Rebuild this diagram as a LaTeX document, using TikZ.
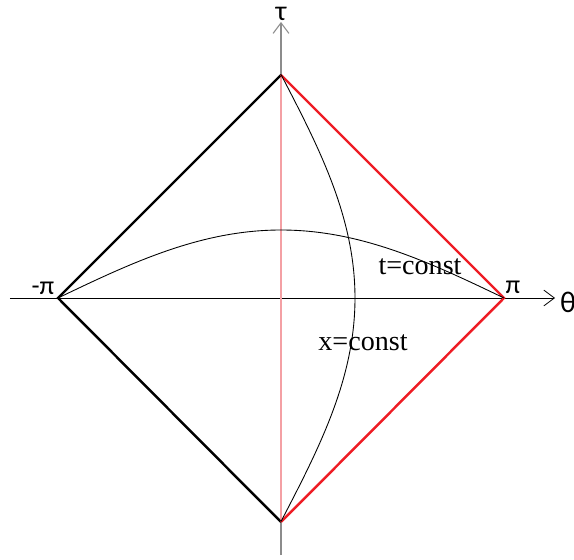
\documentclass[tikz,border=0pt]{standalone}
\usepackage{fontspec}
\setmainfont{Liberation Serif}
\newfontfamily\labelfont{Carlito}
\usetikzlibrary{arrows.meta}
\definecolor{edgered}{HTML}{EE1C24}
\definecolor{axispink}{HTML}{F4A0A4}
\definecolor{axisgray}{HTML}{8C8C8C}

\begin{document}
\begin{tikzpicture}[x=0.02cm, y=0.02cm,
  axisarrow/.style={-{Straight Barb[length=6pt, width=9pt]}},
  edge/.style={line width=1.4pt},
  curve/.style={line width=0.5pt},
  lbl/.style={font=\labelfont\fontsize{15}{17}\selectfont, inner sep=1pt}]

% Frame
\useasboundingbox (-281,-262) rectangle (293,298);

% Corners of the diamond
\coordinate (top) at (0,223);
\coordinate (bot) at (0,-224);
\coordinate (lft) at (-223,0);
\coordinate (rgt) at (223,0);

% Axes
\coordinate (xstart) at (-271,0);
\coordinate (xend) at (274,0);
\coordinate (ystart) at (0,-257);
\coordinate (yend) at (0,276);
\draw[axisarrow, line width=0.45pt] (xstart) -- (xend);
\draw[axisarrow, axisgray, line width=0.6pt] (ystart) -- (yend);
\draw[axispink, line width=0.6pt] (bot) -- (top);

% Diamond
\draw[edge, black] (bot) -- (lft) -- (top);
\draw[edge, edgered] (top) -- (rgt) -- (bot);

% t = const and x = const
\draw[curve, domain=-180:180, samples=60, smooth]
  plot ({\x/180*223}, {68*cos(\x/2)});
\draw[curve, domain=-180:180, samples=60, smooth]
  plot ({74*cos(\x/2)}, {\x/180*223.5});

% Labels
\node[lbl, font=\labelfont\fontsize{16}{18}\selectfont] (tau) at (0,284) {τ};
\node[lbl, font=\labelfont\fontsize{17}{19}\selectfont] (theta) at (287,-4) {θ};
\node[lbl] (mpi) at (-238,10) {-π};
\node[lbl] (ppi) at (232,11) {π};
\node[font=\fontsize{16}{18}\selectfont, inner sep=1pt] (tconst) at (139,31) {t=const};
\node[font=\fontsize{16}{18}\selectfont, inner sep=1pt] (xconst) at (82,-45) {x=const};

\end{tikzpicture}
\end{document}
